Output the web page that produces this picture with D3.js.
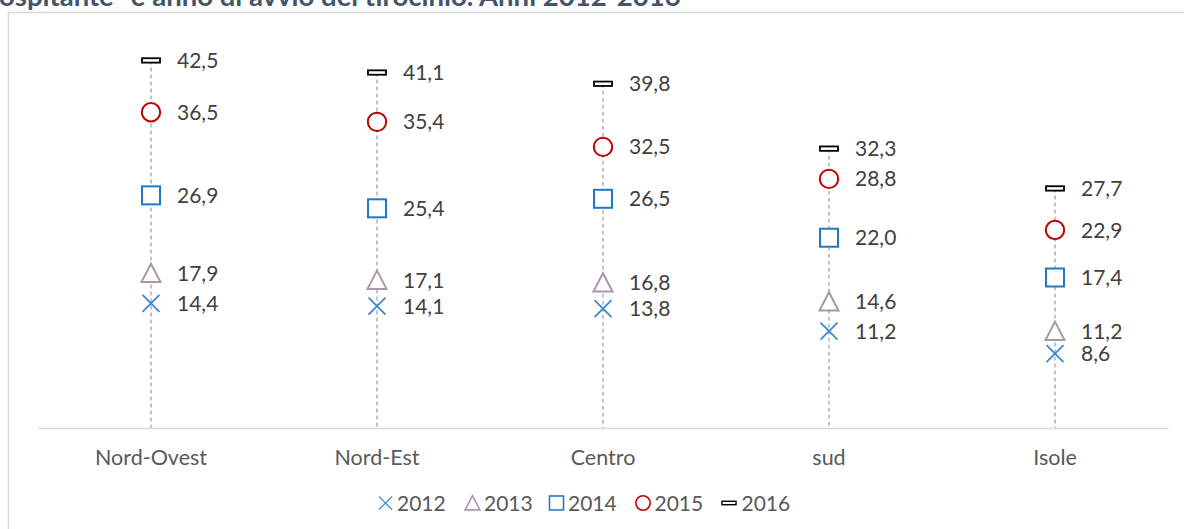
<!DOCTYPE html>
<html>
<head>
<meta charset="utf-8">
<script src="https://cdn.jsdelivr.net/npm/d3@7"></script>
<style>
  body { margin: 0; background: #fff; }
  svg { display: block; font-family: Lato, "Open Sans", sans-serif; }
</style>
</head>
<body>
<div id="chart"></div>
<script>
// dati
const regions = ["Nord-Ovest", "Nord-Est", "Centro", "sud", "Isole"];
const years = ["2012", "2013", "2014", "2015", "2016"];
const v2012 = [14.4, 14.1, 13.8, 11.2, 8.6];
const v2013 = [17.9, 17.1, 16.8, 14.6, 11.2];
const v2014 = [26.9, 25.4, 26.5, 22.0, 17.4];
const v2015 = [36.5, 35.4, 32.5, 28.8, 22.9];
const v2016 = [42.5, 41.1, 39.8, 32.3, 27.7];
const title = "ospitante\" e anno di avvio del tirocinio. Anni 2012-2016";

const seriesValues = [v2012, v2013, v2014, v2015, v2016];
const colors = ["#3a86d6", "#a599ae", "#1f78c8", "#c00000", "#000000"];
const shapes = ["cross", "triangle", "square", "circle", "dash"];

const width = 1184, height = 529;
const svg = d3.select("#chart").append("svg")
    .attr("width", width)
    .attr("height", height);

// titolo (tagliato in alto)
svg.append("text")
    .attr("x", -1)
    .attr("y", 6)
    .attr("fill", "#44546a")
    .style("font-size", "27.5px")
    .style("font-weight", "bold")
    .text(title);

// cornice
svg.append("rect")
    .attr("x", 8.5)
    .attr("y", 12.5)
    .attr("width", width + 20)
    .attr("height", height + 20)
    .attr("fill", "none")
    .attr("stroke", "#d9d9d9")
    .attr("stroke-width", 1.5);

const x = d3.scaleBand()
    .domain(regions)
    .range([38, 1168]);

const y = d3.scaleLinear()
    .domain([0, 45])
    .range([428, 38.8]);

// drop lines
svg.append("g").selectAll("line")
    .data(regions)
    .join("line")
    .attr("x1", d => x(d) + x.bandwidth() / 2)
    .attr("x2", d => x(d) + x.bandwidth() / 2)
    .attr("y1", (d, i) => y(d3.max(seriesValues, s => s[i])))
    .attr("y2", y(0))
    .attr("stroke", "#a6a6a6")
    .attr("stroke-width", 1.3)
    .attr("stroke-dasharray", "4,3");

// asse x
const xAxis = svg.append("g")
    .attr("transform", `translate(0,${y(0)})`)
    .call(d3.axisBottom(x).tickSize(0).tickPadding(22));
xAxis.select(".domain").attr("stroke", "#d9d9d9").attr("stroke-width", 1.5);
xAxis.selectAll("text")
    .attr("fill", "#595959")
    .style("font-size", "21.5px")
    .style("font-family", "Lato, 'Open Sans', sans-serif");

function drawMarker(g, shape, color) {
    if (shape === "cross") {
        g.append("path").attr("d", "M-8.5,-8.5L8.5,8.5M-8.5,8.5L8.5,-8.5")
            .attr("stroke", color).attr("stroke-width", 1.7).attr("fill", "none");
    } else if (shape === "triangle") {
        g.append("path").attr("d", "M0,-9.5L9.5,8.8L-9.5,8.8Z")
            .attr("stroke", color).attr("stroke-width", 2).attr("fill", "#fff");
    } else if (shape === "square") {
        g.append("rect").attr("x", -9).attr("y", -9).attr("width", 18).attr("height", 18)
            .attr("stroke", color).attr("stroke-width", 2).attr("fill", "#fff");
    } else if (shape === "circle") {
        g.append("circle").attr("r", 9.2)
            .attr("stroke", color).attr("stroke-width", 2).attr("fill", "#fff");
    } else {
        g.append("rect").attr("x", -9).attr("y", -2.2).attr("width", 18).attr("height", 4.4)
            .attr("stroke", color).attr("stroke-width", 1.8).attr("fill", "#fff");
    }
}

// marcatori ed etichette
seriesValues.forEach((vals, si) => {
    const g = svg.append("g");
    vals.forEach((v, i) => {
        const cx = x(regions[i]) + x.bandwidth() / 2;
        const m = g.append("g").attr("transform", `translate(${cx},${y(v)})`);
        drawMarker(m, shapes[si], colors[si]);
        g.append("text")
            .attr("x", cx + 26)
            .attr("y", y(v))
            .attr("dy", "0.36em")
            .attr("fill", "#404040")
            .style("font-size", "21px")
            .text(d3.format(".1f")(v).replace(".", ","));
    });
});

// legenda
const legendX = [385.5, 472.5, 556.5, 643, 729];
const legend = svg.append("g").attr("transform", "translate(0,503)");
years.forEach((yr, i) => {
    const lg = legend.append("g").attr("transform", `translate(${legendX[i]},0)`);
    const m = lg.append("g").attr("transform", "scale(0.78)");
    drawMarker(m, shapes[i], colors[i]);
    lg.append("text")
        .attr("x", i === 4 ? 12.5 : 11.5)
        .attr("dy", "0.36em")
        .attr("fill", "#595959")
        .style("font-size", "21px")
        .text(yr);
});
</script>
</body>
</html>
